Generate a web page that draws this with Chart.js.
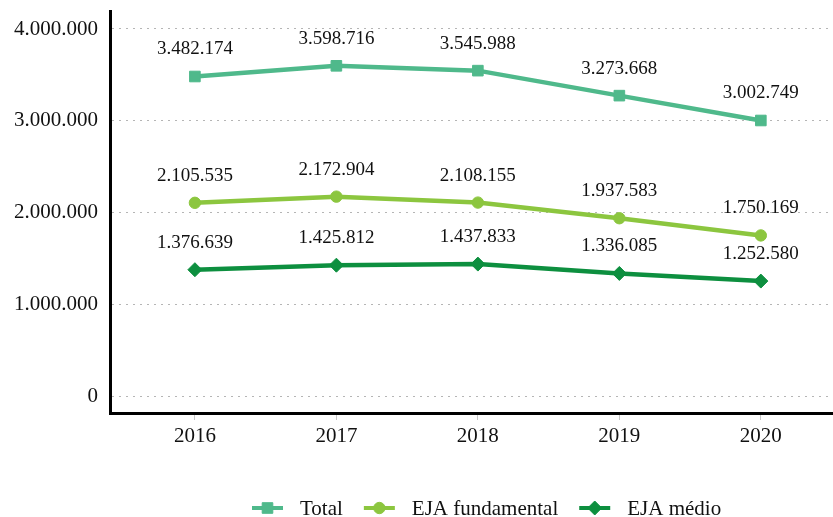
<!DOCTYPE html>
<html>
<head>
<meta charset="utf-8">
<script src="https://cdn.jsdelivr.net/npm/chart.js@4"></script>
<style>
  html, body { margin: 0; padding: 0; background: #fff; }
  #wrap { width: 833px; height: 517px; }
</style>
</head>
<body>
<div id="wrap"><canvas id="eja"></canvas></div>
<script>
// Matrículas EJA 2016-2020
const years = [2016, 2017, 2018, 2019, 2020];
const totalValues = [3482174, 3598716, 3545988, 3273668, 3002749];
const fundamentalValues = [2105535, 2172904, 2108155, 1937583, 1750169];
const medioValues = [1376639, 1425812, 1437833, 1336085, 1252580];
const yTicks = [0, 1000000, 2000000, 3000000, 4000000];

const seriesNames = ["Total", "EJA fundamental", "EJA médio"];
const seriesColors = ["#4fb98b", "#8cc63f", "#0d8f3f"];
const seriesPoints = ["rect", "circle", "rectRot"];
const seriesRadius = [7.5, 5.7, 7];

const serif = "'Liberation Serif', 'Times New Roman', serif";

const fmt = (v) => String(v).replace(/\B(?=(\d{3})+(?!\d))/g, ".");

const toPoints = (vals) => vals.map((v, i) => ({ x: years[i], y: v }));

const makeDataset = (idx, vals) => ({
    label: seriesNames[idx],
    data: toPoints(vals),
    borderColor: seriesColors[idx],
    backgroundColor: seriesColors[idx],
    borderWidth: 4.5,
    pointStyle: seriesPoints[idx],
    pointRadius: seriesRadius[idx],
    pointHoverRadius: seriesRadius[idx],
    pointBorderWidth: 1,
    tension: 0,
});

// value labels above each point
const valueLabels = {
    id: "valueLabels",
    afterDatasetsDraw(chart) {
        const ctx = chart.ctx;
        ctx.save();
        ctx.font = "19px " + serif;
        ctx.fillStyle = "#111";
        ctx.textAlign = "center";
        ctx.textBaseline = "middle";
        chart.data.datasets.forEach((ds, di) => {
            chart.getDatasetMeta(di).data.forEach((pt, i) => {
                ctx.fillText(fmt(ds.data[i].y), pt.x, pt.y - 27);
            });
        });
        ctx.restore();
    }
};

// legend with line + marker like the original
const lineLegend = {
    id: "lineLegend",
    afterDraw(chart) {
        const ctx = chart.ctx;
        const y = 508;
        let x = 252;
        ctx.save();
        ctx.font = "21px " + serif;
        ctx.textBaseline = "middle";
        ctx.textAlign = "left";
        seriesNames.forEach((name, i) => {
            ctx.strokeStyle = seriesColors[i];
            ctx.fillStyle = seriesColors[i];
            ctx.lineWidth = 4;
            ctx.beginPath();
            ctx.moveTo(x, y);
            ctx.lineTo(x + 31, y);
            ctx.stroke();
            ctx.lineWidth = 1;
            Chart.helpers.drawPoint(ctx, {
                pointStyle: seriesPoints[i],
                radius: seriesRadius[i],
                rotation: 0,
                borderWidth: 1
            }, x + 15.5, y);
            x += 48;
            ctx.fillStyle = "#111";
            ctx.fillText(name, x, y + 1);
            x += ctx.measureText(name).width + 21;
        });
        ctx.restore();
    }
};

new Chart(document.getElementById("eja"), {
    type: "line",
    data: {
        datasets: [
            makeDataset(0, totalValues),
            makeDataset(1, fundamentalValues),
            makeDataset(2, medioValues),
        ]
    },
    options: {
        responsive: true,
        maintainAspectRatio: false,
        animation: false,
        layout: { autoPadding: false, padding: { top: 11, right: 0, left: 0, bottom: 0 } },
        plugins: {
            legend: { display: false },
            tooltip: { enabled: false },
        },
        scales: {
            x: {
                type: "linear",
                min: 2015.4,
                max: 2020.51,
                afterBuildTicks: (axis) => { axis.ticks = years.map(v => ({ value: v })); },
                afterFit: (axis) => {
                    axis.height = 104;
                    axis.paddingLeft = 0;
                    axis.paddingRight = 0;
                },
                border: { color: "#000", width: 3 },
                grid: { drawOnChartArea: false, drawTicks: true, tickLength: 7, color: "#c8c8c8" },
                ticks: {
                    color: "#111",
                    font: { family: serif, size: 21 },
                    padding: 4,
                    callback: (v) => String(v),
                },
            },
            y: {
                min: -185000,
                max: 4196000,
                afterBuildTicks: (axis) => { axis.ticks = yTicks.map(v => ({ value: v })); },
                afterFit: (axis) => {
                    axis.width = 110;
                    axis.paddingTop = 0;
                    axis.paddingBottom = 0;
                },
                border: { color: "#000", width: 3, dash: [2, 5] },
                grid: { drawTicks: false, color: "#b5b5b5", lineWidth: 1 },
                ticks: {
                    color: "#111",
                    font: { family: serif, size: 21 },
                    padding: 12,
                    callback: (v) => fmt(v),
                },
            },
        },
    },
    plugins: [valueLabels, lineLegend],
});
</script>
</body>
</html>
